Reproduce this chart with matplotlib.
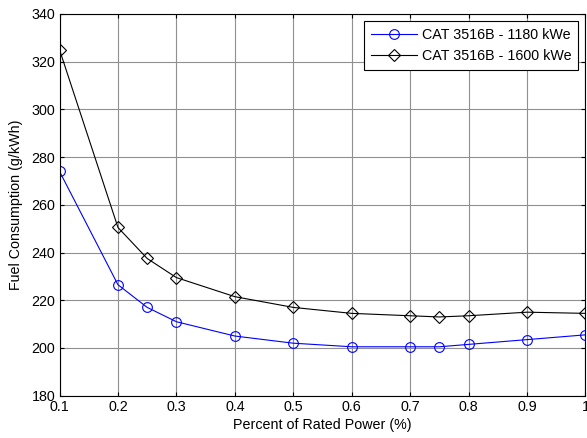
import matplotlib
matplotlib.use("Agg")
import matplotlib.pyplot as plt

x = [0.1, 0.2, 0.25, 0.3, 0.4, 0.5, 0.6, 0.7, 0.75, 0.8, 0.9, 1.0]
fuel_1180 = [274, 226.5, 217, 211, 205, 202, 200.5, 200.5, 200.5, 201.5, 203.5, 205.5]
fuel_1600 = [325, 250.5, 237.5, 229.5, 221.5, 217, 214.5, 213.5, 213, 213.5, 215, 214.5]
labels = ["CAT 3516B - 1180 kWe", "CAT 3516B - 1600 kWe"]
xticks = [0.1, 0.2, 0.3, 0.4, 0.5, 0.6, 0.7, 0.8, 0.9, 1.0]
xticklabels = ["0.1", "0.2", "0.3", "0.4", "0.5", "0.6", "0.7", "0.8", "0.9", "1"]
yticks = [180, 200, 220, 240, 260, 280, 300, 320, 340]

plt.rcParams['font.family'] = ['Liberation Sans', 'DejaVu Sans']
fs = 10.3
fig = plt.figure(figsize=(5.87, 4.38), dpi=100)
ax = fig.add_axes([0.1014, 0.0966, 0.896, 0.8716])

ax.plot(x, fuel_1180, color='blue', lw=0.8, marker='o', ms=7, mfc='none', mec='blue', mew=0.8, label=labels[0])
ax.plot(x, fuel_1600, color='black', lw=0.8, marker='D', ms=6, mfc='none', mec='black', mew=0.8, label=labels[1])

ax.set_xlim(0.1, 1.0)
ax.set_ylim(180, 340)
ax.set_xticks(xticks)
ax.set_xticklabels(xticklabels)
ax.set_yticks(yticks)
ax.grid(True, color='#909090', lw=0.8)
ax.tick_params(direction='in', top=True, right=True, length=3, labelsize=fs, pad=3)
for s in ax.spines.values():
    s.set_linewidth(0.8)
ax.set_xlabel("Percent of Rated Power (%)", fontsize=fs, labelpad=3)
ax.set_ylabel("Fuel Consumption (g/kWh)", fontsize=fs, labelpad=6)
leg = ax.legend(loc='upper right', fontsize=fs, fancybox=False, framealpha=1, edgecolor='black',
                borderaxespad=0.5, handlelength=3.2, handletextpad=0.4, borderpad=0.45, labelspacing=0.55)
leg.get_frame().set_linewidth(0.8)

fig.savefig("out.png", dpi=100)
